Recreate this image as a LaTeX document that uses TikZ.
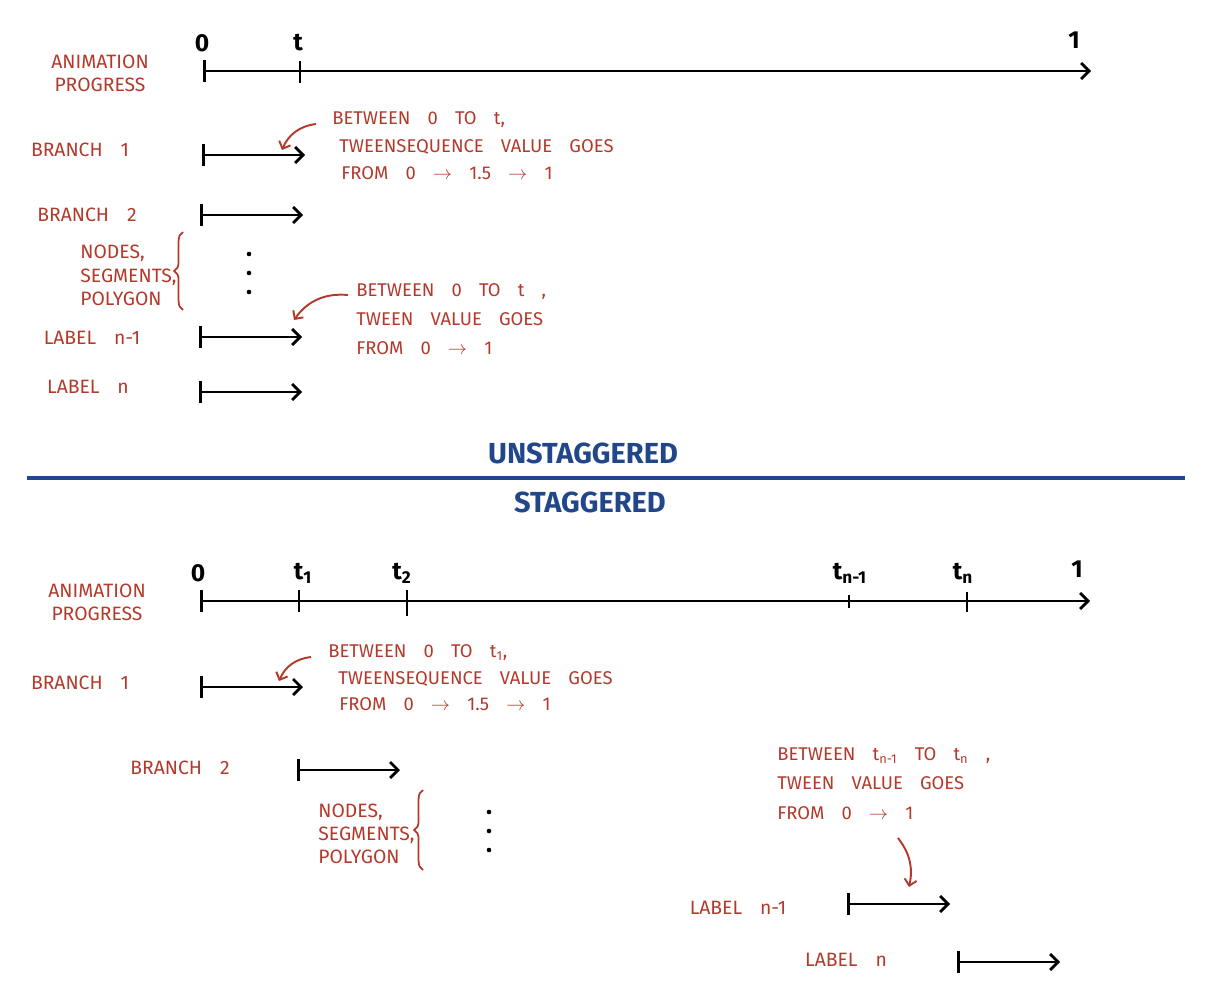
\documentclass[tikz,border=0pt]{standalone}
\usepackage{fontspec}
\setmainfont[WordSpace=3.5]{Fira Sans}
\usetikzlibrary{arrows.meta,decorations.pathreplacing}
\definecolor{pen}{HTML}{B3392B}
\definecolor{ink}{HTML}{22468A}
\begin{document}
\begin{tikzpicture}[x=0.02cm,y=-0.02cm,
  hand/.style={text=pen,inner sep=0pt,font=\fontsize{11}{13}\selectfont},
  handnote/.style={text=pen,inner sep=0pt,anchor=west,font=\fontsize{10.5}{12}\selectfont},
  num/.style={inner sep=0pt,font=\fontsize{14}{15}\selectfont\bfseries},
  heading/.style={text=ink,inner sep=0pt,font=\fontsize{16.5}{18}\selectfont\bfseries},
  timeline/.style={line width=1.6pt,{Bar[width=12.5pt]}-{Straight Barb[length=4.5pt,width=9pt]}},
  tickbar/.style={line width=1.6pt},
  pointer/.style={pen,line width=1.1pt,-{Straight Barb[length=3.5pt,width=7pt]}},
  bracket/.style={pen,line width=1pt,decorate,decoration={brace,amplitude=5pt}},
]

\useasboundingbox (0,0) rectangle (1209,1000);

\newcommand{\myspan}[3]{% name, x depart, y
\coordinate (#1s) at (#2,#3);
\coordinate (#1e) at (#2+103,#3);
\draw[timeline] (#1s) -- (#1e);
}
\newcommand{\mytick}[4]{% name, x, y top, y bottom
\coordinate (#1a) at (#2,#3);
\coordinate (#1b) at (#2,#4);
\draw[tickbar] (#1a) -- (#1b);
}

%% UNSTAGGERED %%
%animation progress
\node[hand,align=center] (prog) at (100,73) {ANIMATION\\PROGRESS};
\coordinate (ax0) at (203,71);
\coordinate (ax1) at (1091,71);
\draw[timeline] (ax0) -- (ax1);
\mytick{tt}{300}{61}{83}
\node[num] (zero) at (202,43) {0};
\node[num] (t) at (298,43) {t};
\node[num] (one) at (1074,40) {1};
%branch 1
\node[hand] (b1) at (80,150) {BRANCH 1};
\myspan{s1}{202}{155}
\node[handnote] (n1a) at (332,120) {BETWEEN 0 TO t,};
\node[handnote] (n1b) at (339,147) {TWEENSEQUENCE VALUE GOES};
\node[handnote] (n1c) at (341,173) {FROM 0 $\rightarrow$ 1.5 $\rightarrow$ 1};
\coordinate (p1) at (316,124);
\coordinate (p1t) at (282,150);
\draw[pointer] (p1) to[bend right=30] (p1t);
%branch 2
\node[hand] (b2) at (87,215) {BRANCH 2};
\myspan{s2}{200}{215}
%nodes, segments, polygon
\node[hand,anchor=west] (g1) at (80,253) {NODES,};
\node[hand,anchor=west] (g2) at (80,277) {SEGMENTS,};
\node[hand,anchor=west] (g3) at (80,299) {POLYGON};
\coordinate (br1a) at (183,310);
\coordinate (br1b) at (183,232);
\draw[bracket] (br1a) -- (br1b);
\fill (249,254) circle[radius=1.3pt];
\fill (249,273) circle[radius=1.3pt];
\fill (249,292) circle[radius=1.3pt];
%label n-1
\node[hand] (l1) at (92,338) {LABEL n-1};
\myspan{s3}{199}{337}
\node[handnote] (n2a) at (356,292) {BETWEEN 0 TO t ,};
\node[handnote] (n2b) at (356,319) {TWEEN VALUE GOES};
\node[handnote] (n2c) at (356,348) {FROM 0 $\rightarrow$ 1};
\coordinate (p2) at (348,295);
\coordinate (p2t) at (294,320);
\draw[pointer] (p2) to[bend right=30] (p2t);
%label n
\node[hand] (l2) at (88,387) {LABEL n};
\myspan{s4}{199}{392}

%% divider %%
\node[heading] (unst) at (583,453) {UNSTAGGERED};
\coordinate (dl) at (27,478);
\coordinate (dr) at (1185,478);
\draw[ink,line width=1.8pt] (dl) -- (dr);
\node[heading] (stag) at (590,502) {STAGGERED};

%% STAGGERED %%
%animation progress
\node[hand,align=center] (prog2) at (97,602) {ANIMATION\\PROGRESS};
\coordinate (bx0) at (200,601);
\coordinate (bx1) at (1090,601);
\draw[timeline] (bx0) -- (bx1);
\mytick{t1}{299}{590}{612}
\mytick{t2}{407}{590}{616}
\mytick{t3}{849}{595}{608}
\mytick{t4}{967}{592}{612}
\node[num] (zero2) at (198,573) {0};
\node[num] (lt1) at (303,573) {t\textsubscript{1}};
\node[num] (lt2) at (402,573) {t\textsubscript{2}};
\node[num] (lt3) at (850,573) {t\textsubscript{n-1}};
\node[num] (lt4) at (963,573) {t\textsubscript{n}};
\node[num] (one2) at (1077,569) {1};
%branch 1
\node[hand] (c1) at (80,683) {BRANCH 1};
\myspan{u1}{200}{687}
\node[handnote] (n3a) at (328,653) {BETWEEN 0 TO t\textsubscript{1},};
\node[handnote] (n3b) at (338,679) {TWEENSEQUENCE VALUE GOES};
\node[handnote] (n3c) at (339,704) {FROM 0 $\rightarrow$ 1.5 $\rightarrow$ 1};
\coordinate (p3) at (311,657);
\coordinate (p3t) at (279,681);
\draw[pointer] (p3) to[bend right=30] (p3t);
%branch 2
\node[hand] (c2) at (180,768) {BRANCH 2};
\myspan{u2}{297}{770}
%nodes, segments, polygon
\node[hand,anchor=west] (h1) at (318,812) {NODES,};
\node[hand,anchor=west] (h2) at (318,835) {SEGMENTS,};
\node[hand,anchor=west] (h3) at (318,857) {POLYGON};
\coordinate (br2a) at (423,870);
\coordinate (br2b) at (423,790);
\draw[bracket] (br2a) -- (br2b);
\fill (489,812) circle[radius=1.3pt];
\fill (489,831) circle[radius=1.3pt];
\fill (489,850) circle[radius=1.3pt];
%label n-1
\node[handnote] (n4a) at (777,756) {BETWEEN t\textsubscript{n-1} TO t\textsubscript{n} ,};
\node[handnote] (n4b) at (777,783) {TWEEN VALUE GOES};
\node[handnote] (n4c) at (777,813) {FROM 0 $\rightarrow$ 1};
\coordinate (p4) at (898,838);
\coordinate (p4t) at (909,887);
\draw[pointer] (p4) to[bend left=25] (p4t);
\node[hand] (c3) at (738,908) {LABEL n-1};
\myspan{u3}{847}{904}
%label n
\node[hand] (c4) at (846,960) {LABEL n};
\myspan{u4}{957}{962}

\end{tikzpicture}
\end{document}
